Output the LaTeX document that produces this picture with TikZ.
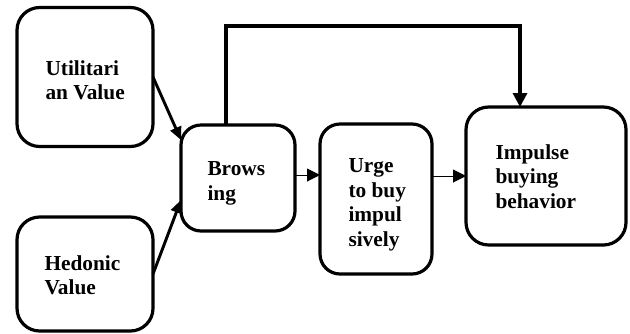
\documentclass[tikz,border=0pt]{standalone}
\usepackage{fontspec}
\setmainfont{Liberation Serif}
\usetikzlibrary{arrows.meta,calc}
\tikzset{every picture/.style={line width=0.75pt}}
\tikzset{
  stagebox/.style={draw, line width=2.4pt, rounded corners=17pt, inner sep=0pt, outer sep=0pt},
  stagetext/.style={anchor=north west, inner sep=0pt, align=left, font=\bfseries\fontsize{16}{18.4}\selectfont},
  thinarrow/.style={-{Triangle[length=9.75pt,width=9.75pt]}, line width=0.75pt},
  boldarrow/.style={-{Triangle[length=9.75pt,width=8.5pt]}, line width=2.2pt},
}

\begin{document}
\begin{tikzpicture}[x=0.75pt,y=0.75pt,yscale=-1,xscale=1]
	\useasboundingbox (0,0) rectangle (630,333);
	
	%Rounded Rect [id:util] 
	\node [stagebox, minimum width=102pt, minimum height=104.25pt] (util) at (85,77) {};
	%Rounded Rect [id:hed] 
	\node [stagebox, minimum width=102pt, minimum height=85.5pt] (hed) at (85,274) {};
	%Rounded Rect [id:brows] 
	\node [stagebox, rounded corners=15pt, minimum width=85.5pt, minimum height=79.5pt] (brows) at (238,178) {};
	%Rounded Rect [id:urge] 
	\node [stagebox, rounded corners=15pt, minimum width=84pt, minimum height=112.5pt] (urge) at (376,199) {};
	%Rounded Rect [id:imp] 
	\node [stagebox, minimum width=120pt, minimum height=103.5pt] (imp) at (546,176) {};
	
	%Straight Lines [id:util-brows] 
	\draw [boldarrow] (util.east) -- ($(brows.west)+(0,-38)$) ;
	%Straight Lines [id:hed-brows] 
	\draw [boldarrow] (hed.east) -- ($(brows.west)+(0,22)$) ;
	%Straight Lines [id:brows-urge] 
	\coordinate (browsout) at ($(brows.east)+(0,-3)$);
	\draw [thinarrow] (browsout) -- (browsout -| urge.west) ;
	%Straight Lines [id:urge-imp] 
	\draw [thinarrow] (imp.west -| urge.east) -- (imp.west) ;
	%Shape: Elbow [id:brows-imp] 
	\coordinate (browstop) at ($(brows.north)+(-12,0)$);
	\coordinate (imptop) at ($(imp.north)+(-26,0)$);
	\coordinate (topline) at (0,26);
	\draw [boldarrow, -{Triangle[length=10.5pt,width=10.5pt]}, line width=2.4pt] (browstop) -- (browstop |- topline) -| (imptop) ;
	
	% Text Node
	\node [stagetext] (utiltext) at (45,60) {Utilitari\\an Value};
	% Text Node
	\node [stagetext] (hedtext) at (44,255) {Hedonic\\Value};
	% Text Node
	\node [stagetext] (browstext) at (207,161) {Brows\\ing};
	% Text Node
	\node [stagetext] (urgetext) at (348,158) {Urge\\to buy\\impul\\sively};
	% Text Node
	\node [stagetext] (imptext) at (495,144) {Impulse\\buying\\behavior};
	
\end{tikzpicture}
\end{document}
